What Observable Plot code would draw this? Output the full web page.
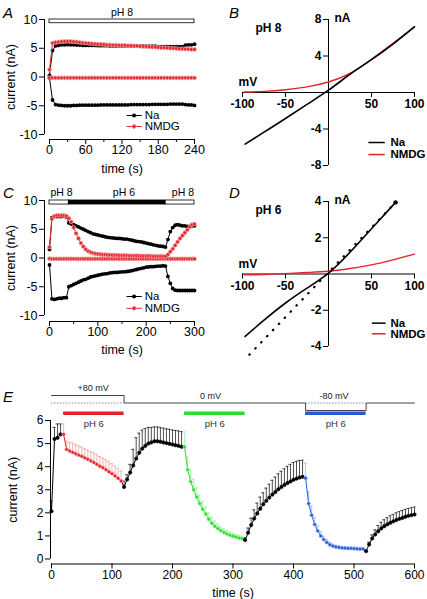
<!DOCTYPE html>
<html><head><meta charset="utf-8">
<script src="https://cdn.jsdelivr.net/npm/d3@7"></script>
<script src="https://cdn.jsdelivr.net/npm/@observablehq/plot@0.6"></script>
<style>
html,body{margin:0;padding:0;background:#fff;}
#root{position:relative;width:427px;height:599px;overflow:hidden;background:#fff;font-family:'Liberation Sans',Arial,Helvetica,sans-serif;}
.panel{position:absolute;}
.letter{position:absolute;font:italic 15px 'Liberation Sans',Arial,Helvetica,sans-serif;line-height:1;color:#000;}
svg{overflow:visible;}
</style></head><body><div id="root"></div>
<script>
// ---------- Panel A data (pH 8, time course) ----------
const aTime = [0,5,10,15,20,25,30,35,40,45,
  50,55,60,65,70,75,80,85,90,95,
  100,105,110,115,120,125,130,135,140,145,
  150,155,160,165,170,175,180,185,190,195,
  200,205,210,215,220,225,230,235,240];
const aNaOut = [0.3,4.6,5.4,5.5,5.6,5.6,5.65,5.6,5.6,5.55,
  5.55,5.5,5.5,5.5,5.5,5.5,5.45,5.45,5.45,5.45,
  5.4,5.4,5.4,5.4,5.4,5.4,5.4,5.4,5.4,5.4,
  5.4,5.4,5.35,5.35,5.35,5.35,5.3,5.3,5.3,5.3,
  5.3,5.3,5.3,5.3,5.3,5.55,5.6,5.6,5.7];
const aNaIn = [-0.2,-4.0,-4.8,-4.9,-4.95,-5.0,-5.0,-5.0,-4.95,-4.95,
  -4.9,-4.9,-4.9,-4.9,-4.9,-4.9,-4.9,-4.85,-4.85,-4.85,
  -4.85,-4.85,-4.85,-4.85,-4.85,-4.85,-4.85,-4.8,-4.8,-4.8,
  -4.8,-4.8,-4.8,-4.8,-4.75,-4.75,-4.75,-4.75,-4.75,-4.75,
  -4.7,-4.7,-4.7,-4.7,-4.7,-4.8,-4.85,-4.85,-4.95];
const aNmdgOut = [1.3,5.9,6.0,6.1,6.15,6.2,6.2,6.2,6.15,6.1,
  6.0,5.95,5.9,5.85,5.8,5.75,5.7,5.7,5.65,5.6,
  5.6,5.55,5.55,5.5,5.5,5.5,5.45,5.45,5.4,5.4,
  5.35,5.3,5.3,5.25,5.2,5.2,5.15,5.1,5.1,5.05,
  5.0,5.0,4.95,4.9,4.9,4.85,4.85,4.8,4.8];
const aNmdgIn = [-0.1,-0.15,-0.15,-0.15,-0.15,-0.15,-0.15,-0.15,-0.15,-0.15,
  -0.15,-0.15,-0.15,-0.15,-0.15,-0.15,-0.15,-0.15,-0.15,-0.15,
  -0.15,-0.15,-0.15,-0.15,-0.15,-0.15,-0.15,-0.15,-0.15,-0.15,
  -0.15,-0.15,-0.15,-0.15,-0.15,-0.15,-0.15,-0.15,-0.15,-0.15,
  -0.15,-0.15,-0.15,-0.15,-0.15,-0.15,-0.15,-0.15,-0.15];
const aPhBars = [{from:0, to:240, ph:8}];
const aXTicks = [0,60,120,180,240];
const aXMinor = [30,90,150,210];
const aYTicks = [-10,-5,0,5,10];

// ---------- Panel B data (I-V, pH 8) ----------
const bNaMv = [-97,-75,-50,-25,0,25,50,75,100];
const bNaI = [-5.65,-4.35,-2.85,-1.3,0.25,2.0,3.6,5.3,7.2];
const bNmdgMv = [-98,-75,-50,-25,0,25,50,75,100];
const bNmdgI = [0.05,0.12,0.3,0.62,1.15,2.1,3.65,5.4,7.2];
const bXTicks = [-100,-50,50,100];
const bYTicks = [8,4,-4,-8];

// ---------- Panel C data (pH 8 -> pH 6 -> pH 8) ----------
const cTime = [0,5,10,15,20,25,30,35,40,45,
  50,55,60,65,70,75,80,85,90,95,
  100,105,110,115,120,125,130,135,140,145,
  150,155,160,165,170,175,180,185,190,195,
  200,205,210,215,220,225,230,235,240,245,
  250,255,260,265,270,275,280,285,290,295,
  300];
const cNaOut = [1.5,7.0,7.2,7.2,7.2,7.2,7.3,7.1,6.1,5.9,
  5.8,5.6,5.4,5.2,5.0,4.8,4.6,4.4,4.2,4.1,
  4.0,3.9,3.8,3.7,3.6,3.55,3.5,3.45,3.4,3.4,
  3.35,3.3,3.3,3.2,3.1,3.0,2.9,2.85,2.8,2.7,
  2.6,2.5,2.4,2.3,2.2,2.1,2.05,2.0,1.9,3.2,
  4.6,5.3,5.7,5.8,5.7,5.6,5.6,5.5,5.5,5.6,
  5.6];
const cNaIn = [-1.2,-7.1,-7.2,-7.1,-7.0,-7.0,-6.9,-6.9,-5.0,-4.8,
  -4.6,-4.4,-4.2,-4.0,-3.8,-3.7,-3.5,-3.3,-3.2,-3.1,
  -3.0,-2.9,-2.8,-2.75,-2.7,-2.6,-2.55,-2.5,-2.5,-2.45,
  -2.4,-2.4,-2.35,-2.3,-2.2,-2.1,-2.0,-1.9,-1.8,-1.7,
  -1.6,-1.55,-1.5,-1.5,-1.45,-1.4,-1.4,-1.35,-1.4,-3.2,
  -4.4,-5.3,-5.6,-5.65,-5.65,-5.65,-5.65,-5.65,-5.65,-5.65,
  -5.65];
const cNmdgOut = [1.9,6.8,7.3,7.4,7.4,7.4,7.4,7.3,6.9,6.3,
  5.3,4.3,3.4,2.6,2.0,1.5,1.2,1.0,0.85,0.75,
  0.7,0.65,0.6,0.6,0.55,0.55,0.5,0.5,0.5,0.45,
  0.45,0.45,0.45,0.4,0.4,0.4,0.4,0.4,0.35,0.35,
  0.35,0.35,0.35,0.3,0.3,0.3,0.3,0.3,0.3,0.6,
  1.1,1.6,2.2,2.8,3.4,3.9,4.4,4.9,5.4,5.8,
  5.9];
const cNmdgIn = [-0.1,-0.15,-0.15,-0.15,-0.15,-0.15,-0.15,-0.15,-0.15,-0.15,
  -0.15,-0.15,-0.15,-0.15,-0.15,-0.15,-0.15,-0.15,-0.15,-0.15,
  -0.15,-0.15,-0.15,-0.15,-0.15,-0.15,-0.15,-0.15,-0.15,-0.15,
  -0.15,-0.15,-0.15,-0.15,-0.15,-0.15,-0.15,-0.15,-0.15,-0.15,
  -0.15,-0.15,-0.15,-0.15,-0.15,-0.15,-0.15,-0.15,-0.15,-0.15,
  -0.15,-0.15,-0.15,-0.15,-0.15,-0.15,-0.15,-0.15,-0.15,-0.15,
  -0.15];
const cPhBars = [{from:0,to:40,ph:8},{from:40,to:240,ph:6},{from:240,to:300,ph:8}];
const cPhLabelT = [25,154,276];
const cXTicks = [0,100,200,300];
const cXMinor = [50,150,250];
const cYTicks = [-10,-5,0,5,10];

// ---------- Panel D data (I-V, pH 6) ----------
const dNaMv = [-97,-75,-50,-25,0,25,50,78];
const dNaI = [-3.45,-2.55,-1.6,-0.78,0.05,1.2,2.5,3.95];
const dFitMv = [-92,78];
const dFitI = [-4.45,3.95];
const dNmdgMv = [-98,-75,-50,-25,0,25,50,75,100];
const dNmdgI = [-0.05,-0.03,0.02,0.08,0.15,0.3,0.5,0.78,1.1];
const dXTicks = [-100,-50,50,100];
const dYTicks = [4,2,-2,-4];

// ---------- Panel E data (mean + SEM) ----------
const eTime = [0,5,10,15,20,25,30,35,40,45,
  50,55,60,65,70,75,80,85,90,95,
  100,105,110,115,120,125,130,135,140,145,
  150,155,160,165,170,175,180,185,190,195,
  200,205,210,215,220,225,230,235,240,245,
  250,255,260,265,270,275,280,285,290,295,
  300,305,310,315,320,325,330,335,340,345,
  350,355,360,365,370,375,380,385,390,395,
  400,405,410,415,420,425,430,435,440,445,
  450,455,460,465,470,475,480,485,490,495,
  500,505,510,515,520,525,530,535,540,545,
  550,555,560,565,570,575,580,585,590,595,
  600];
const eMean = [2.07,5.2,5.25,5.4,5.4,4.75,4.68,4.62,4.56,4.5,
  4.45,4.38,4.32,4.25,4.18,4.1,4.02,3.95,3.87,3.78,
  3.7,3.6,3.5,3.38,3.12,3.45,3.75,4.05,4.35,4.6,
  4.78,4.9,5.0,5.05,5.1,5.1,5.08,5.05,5.02,4.99,
  4.96,4.93,4.9,4.86,4.85,3.87,3.35,3.0,2.68,2.4,
  2.15,1.95,1.72,1.55,1.42,1.32,1.23,1.15,1.09,1.03,
  0.99,0.95,0.91,0.88,0.82,1.14,1.47,1.75,1.97,2.18,
  2.37,2.52,2.66,2.79,2.9,3.02,3.12,3.21,3.29,3.36,
  3.43,3.48,3.53,3.56,3.5,2.4,1.9,1.5,1.22,1.0,
  0.84,0.72,0.62,0.56,0.52,0.5,0.48,0.47,0.46,0.46,
  0.45,0.44,0.43,0.43,0.34,0.63,0.89,1.06,1.2,1.32,
  1.42,1.5,1.57,1.63,1.69,1.74,1.78,1.83,1.87,1.9,
  1.93];
const eErr = [0.45,0.5,0.6,0.45,0.45,0.35,0.38,0.4,0.4,0.4,
  0.4,0.4,0.4,0.4,0.42,0.42,0.42,0.42,0.43,0.43,
  0.43,0.43,0.43,0.42,0.25,0.2,0.35,0.7,0.9,0.85,
  0.8,0.75,0.7,0.65,0.62,0.62,0.62,0.62,0.62,0.63,
  0.63,0.64,0.65,0.66,0.65,0.55,0.5,0.45,0.4,0.37,
  0.34,0.3,0.28,0.25,0.22,0.2,0.18,0.16,0.15,0.14,
  0.13,0.12,0.12,0.11,0.1,0.2,0.3,0.38,0.45,0.5,
  0.5,0.55,0.58,0.62,0.65,0.67,0.68,0.7,0.72,0.74,
  0.75,0.75,0.74,0.72,0.65,0.5,0.4,0.3,0.22,0.18,
  0.14,0.12,0.1,0.09,0.08,0.08,0.07,0.07,0.07,0.07,
  0.07,0.07,0.07,0.07,0.05,0.1,0.15,0.2,0.25,0.27,
  0.28,0.29,0.3,0.3,0.31,0.31,0.32,0.32,0.32,0.32,
  0.32];
const ePhBars = [{from:20,to:120,ph:6},{from:220,to:320,ph:6},{from:420,to:520,ph:6}];
const protoT = [0,120,420,520,600];
const protoMv = [80,0,-80,0,0];
const protoLabels = [{t:69,mv:80,text:"+80 mV"},{t:263,mv:0,text:"0 mV"},{t:467,mv:0,text:"-80 mV"}];
const eXTicks = [0,100,200,300,400,500,600];
const eYTicks = [0,1,2,3,4,5,6];

// ---------- styles ----------
const FONT = "'Liberation Sans', Arial, Helvetica, sans-serif";
const RED = "#e3232a", RED_HALO = "#f2a0a0";
const GREEN = "#2bdc2b", GREEN_HALO = "#9af09a";
const BLUE = "#2359dc", BLUE_HALO = "#9cb6f0";
const E_COLORS = [RED, GREEN, BLUE];
const E_HALOS = [RED_HALO, GREEN_HALO, BLUE_HALO];
const baseStyle = {background: "transparent", overflow: "visible", fontFamily: FONT, color: "black"};
const fmt = d => String(d);
const root = document.getElementById("root");

function place(svg, left, top) {
  const d = document.createElement("div");
  d.className = "panel";
  d.style.left = left + "px"; d.style.top = top + "px";
  d.appendChild(svg); root.appendChild(d);
}
function letter(txt, left, top) {
  const d = document.createElement("div");
  d.className = "letter"; d.textContent = txt;
  d.style.left = left + "px"; d.style.top = top + "px";
  root.appendChild(d);
}
function rows(times, vals) { return times.map((t, i) => ({t, v: vals[i]})); }

function igorAxes({xDom, yDom, xTicks, xMinor, yTicks, gapX, gapY, fx, fy}) {
  const m = [
    Plot.ruleY([yDom[0]], {x1: xDom[0], x2: xDom[1], dy: gapY, stroke: "black", strokeWidth: 1}),
    Plot.ruleX([xDom[0]], {y1: yDom[0], y2: yDom[1], dx: -gapX, stroke: "black", strokeWidth: 1}),
    Plot.axisX(xTicks, {anchor: "bottom", dy: gapY, tickSize: 5, tickPadding: 1, tickFormat: fmt, fontSize: fx, label: null}),
    Plot.axisY(yTicks, {anchor: "left", dx: -gapX, tickSize: 5, tickPadding: 2, tickFormat: fmt, fontSize: fy, label: null})
  ];
  if (xMinor) m.push(Plot.axisX(xMinor, {anchor: "bottom", dy: gapY, tickSize: 3, tickFormat: () => "", label: null}));
  return m;
}
function yTitle(txt, dx) {
  return Plot.text([txt], {frameAnchor: "left", rotate: -90, dx, textAnchor: "middle", lineAnchor: "middle", fontSize: 12.5});
}
function xTitle(txt, dy) {
  return Plot.text([txt], {frameAnchor: "bottom", dy, textAnchor: "middle", lineAnchor: "middle", fontSize: 12.5});
}
function traceMarks(times, vals, color, halo) {
  const r = rows(times, vals);
  return [
    Plot.line(r, {x: "t", y: "v", stroke: color, strokeWidth: 1}),
    Plot.dot(r, {x: "t", y: "v", r: 1.9, fill: color, stroke: halo || "none", strokeWidth: 0.8})
  ];
}
function timeLegend(items, {x1, x2, xDot, xText, ys}) {
  return items.flatMap((it, i) => [
    Plot.ruleY([ys[i]], {x1, x2, stroke: it.color, strokeWidth: 1}),
    Plot.dot([ys[i]], {x: xDot, y: d => d, r: 2, fill: it.color, stroke: it.halo || "none", strokeWidth: 0.8}),
    Plot.text([it.label], {x: xText, y: ys[i], textAnchor: "start", lineAnchor: "middle", fontSize: 11.5})
  ]);
}
function ivLegend(items, {x1, x2, xText, ys}) {
  return items.flatMap((it, i) => [
    Plot.ruleY([ys[i]], {x1, x2, stroke: it.color, strokeWidth: 1.5}),
    Plot.text([it.label], {x: xText, y: ys[i], textAnchor: "start", lineAnchor: "middle", fontSize: 11.5, fontWeight: "bold"})
  ]);
}
const legendItems = [{label: "Na", color: "black"}, {label: "NMDG", color: RED, halo: RED_HALO}];

// ---------- Panel A ----------
{
  const xDom = [0, 240], yDom = [-10, 10];
  const svg = Plot.plot({
    width: 215, height: 175, marginLeft: 49, marginRight: 21, marginTop: 19, marginBottom: 41,
    x: {domain: xDom, axis: null}, y: {domain: yDom, axis: null},
    style: baseStyle,
    marks: [
      Plot.rect(aPhBars, {x1: "from", x2: "to", y1: 9.35, y2: 10, fill: "white", stroke: "black", strokeWidth: 0.8}),
      Plot.text(aPhBars, {x: d => (d.from + d.to) / 2, y: 10, dy: -7, text: d => `pH ${d.ph}`, fontSize: 10.5}),
      ...igorAxes({xDom, yDom, xTicks: aXTicks, xMinor: aXMinor, yTicks: aYTicks, gapX: 5, gapY: 5, fx: 12.5, fy: 12.5}),
      yTitle("current (nA)", -39),
      xTitle("time (s)", 34),
      ...traceMarks(aTime, aNaOut, "black"),
      ...traceMarks(aTime, aNaIn, "black"),
      ...traceMarks(aTime, aNmdgIn, RED, RED_HALO),
      ...traceMarks(aTime, aNmdgOut, RED, RED_HALO),
      ...timeLegend(legendItems, {x1: 128.5, x2: 153.5, xDot: 140, xText: 157.5, ys: [-6.7, -8.6]})
    ]
  });
  place(svg, 0, 0);
}

// ---------- I-V panels (B, D) ----------
function ivPanel({naMv, naI, nmdgMv, nmdgI, fitMv, fitI, xTicks, yTicks, yDom, title, top, mTop, mBottom, legendYs, legendX}) {
  const W = 212, H = 175, mL = 27, mR = 13;
  const xDom = [-100, 100];
  const innerW = W - mL - mR, innerH = H - mTop - mBottom;
  const dx0 = (0 - xDom[0]) / (xDom[1] - xDom[0]) * innerW;
  const dy0 = -(0 - yDom[0]) / (yDom[1] - yDom[0]) * innerH;
  const marks = [
    Plot.ruleY([0], {x1: xDom[0], x2: xDom[1], stroke: "black", strokeWidth: 1}),
    Plot.ruleX([0], {y1: yDom[0], y2: yDom[1], stroke: "black", strokeWidth: 1}),
    Plot.axisX(xTicks, {anchor: "bottom", dy: dy0, tickSize: 5, tickPadding: 2, tickFormat: fmt, fontSize: 12, fontWeight: "bold", label: null}),
    Plot.axisY(yTicks, {anchor: "left", dx: dx0, tickSize: 5, tickPadding: 2, tickFormat: fmt, fontSize: 12, fontWeight: "bold", label: null}),
    Plot.text(["nA"], {x: 0, y: yDom[1], dx: 6, dy: -1, textAnchor: "start", lineAnchor: "middle", fontSize: 12, fontWeight: "bold"}),
    Plot.text(["mV"], {x: xDom[0], y: 0, dx: -4, dy: -10, textAnchor: "start", lineAnchor: "middle", fontSize: 12, fontWeight: "bold"}),
    Plot.text([title], {frameAnchor: "top-left", dx: 13, dy: 9, textAnchor: "start", lineAnchor: "middle", fontSize: 12, fontWeight: "bold"}),
    Plot.line(rows(nmdgMv, nmdgI), {x: "t", y: "v", curve: "natural", stroke: RED, strokeWidth: 1.4}),
    Plot.line(rows(naMv, naI), {x: "t", y: "v", curve: "natural", stroke: "black", strokeWidth: 1.6})
  ];
  if (fitMv) {
    const f = rows(fitMv, fitI);
    marks.push(Plot.line(f, {x: "t", y: "v", stroke: "black", strokeWidth: 2.2, strokeDasharray: "0.5,8", strokeLinecap: "round"}));
    marks.push(Plot.dot([f[f.length - 1]], {x: "t", y: "v", r: 2.2, fill: "black"}));
  }
  marks.push(...ivLegend([{label: "Na", color: "black"}, {label: "NMDG", color: RED}], {x1: legendX[0], x2: legendX[1], xText: legendX[2], ys: legendYs}));
  const svg = Plot.plot({
    width: W, height: H, marginLeft: mL, marginRight: mR, marginTop: mTop, marginBottom: mBottom,
    x: {domain: xDom, axis: null}, y: {domain: yDom, axis: null},
    style: baseStyle, marks
  });
  place(svg, 215, top);
}
ivPanel({naMv: bNaMv, naI: bNaI, nmdgMv: bNmdgMv, nmdgI: bNmdgI, xTicks: bXTicks, yTicks: bYTicks,
  yDom: [-8, 8], title: "pH 8", top: 0, mTop: 19, mBottom: 10, legendYs: [-5.48, -6.8], legendX: [47, 66, 72]});

// ---------- Panel C ----------
{
  const xDom = [0, 300], yDom = [-10, 10];
  const svg = Plot.plot({
    width: 215, height: 175, marginLeft: 49, marginRight: 21, marginTop: 19, marginBottom: 41,
    x: {domain: xDom, axis: null}, y: {domain: yDom, axis: null},
    style: baseStyle,
    marks: [
      Plot.rect(cPhBars.filter(d => d.ph === 8), {x1: "from", x2: "to", y1: 9.3, y2: 10, fill: "white", stroke: "black", strokeWidth: 0.8}),
      Plot.rect(cPhBars.filter(d => d.ph === 6), {x1: "from", x2: "to", y1: 9.3, y2: 10, fill: "black", stroke: "black", strokeWidth: 0.8}),
      Plot.text(cPhBars, {x: (d, i) => cPhLabelT[i], y: 10, dy: -8, text: d => `pH ${d.ph}`, fontSize: 10.5}),
      ...igorAxes({xDom, yDom, xTicks: cXTicks, xMinor: cXMinor, yTicks: cYTicks, gapX: 5, gapY: 6, fx: 12.5, fy: 12.5}),
      yTitle("current (nA)", -39),
      xTitle("time (s)", 34),
      ...traceMarks(cTime, cNaOut, "black"),
      ...traceMarks(cTime, cNaIn, "black"),
      ...traceMarks(cTime, cNmdgIn, RED, RED_HALO),
      ...traceMarks(cTime, cNmdgOut, RED, RED_HALO),
      ...timeLegend(legendItems, {x1: 160.5, x2: 192, xDot: 175, xText: 197, ys: [-6.7, -8.75]})
    ]
  });
  place(svg, 0, 181);
}

// ---------- Panel D ----------
ivPanel({naMv: dNaMv, naI: dNaI, nmdgMv: dNmdgMv, nmdgI: dNmdgI, fitMv: dFitMv, fitI: dFitI, xTicks: dXTicks, yTicks: dYTicks,
  yDom: [-4, 4], title: "pH 6", top: 181, mTop: 20, mBottom: 10, legendYs: [-2.71, -3.3], legendX: [51, 67, 72]});

// ---------- Panel E: protocol ----------
{
  const xDom = [0, 600];
  const holds = protoMv.map((v, i) => ({from: protoT[i], to: protoT[i + 1], v})).filter(d => d.v !== 0 && d.to !== undefined);
  const svg = Plot.plot({
    width: 427, height: 50, marginLeft: 51, marginRight: 13, marginTop: 15, marginBottom: 20,
    x: {domain: xDom, axis: null}, y: {domain: [-80, 80], axis: null},
    color: {type: "identity"},
    style: baseStyle,
    marks: [
      Plot.ruleY(holds, {y: 0, x1: "from", x2: "to", stroke: "#888", strokeWidth: 1, strokeDasharray: "1.5,1.5"}),
      Plot.line(rows(protoT, protoMv), {x: "t", y: "v", curve: "step-after", stroke: "#444", strokeWidth: 1}),
      Plot.text(protoLabels, {x: "t", y: "mv", dy: -7, text: "text", fontSize: 9, fill: "#222"}),
      Plot.ruleY(ePhBars, {y: -80, dy: 2.8, x1: "from", x2: "to", stroke: (d, i) => E_COLORS[i], strokeWidth: 3.6}),
      Plot.text(ePhBars, {x: d => (d.from + d.to) / 2, y: -80, dy: 13, text: d => `pH ${d.ph}`, fontSize: 9.5, fill: "#333"})
    ]
  });
  place(svg, 0, 380);
}

// ---------- Panel E: main ----------
{
  const xDom = [0, 600], yDom = [0, 6];
  const segIndex = t => ePhBars.findIndex(b => t >= b.from && t < b.to);
  const pts = eTime.map((t, i) => {
    const k = segIndex(t);
    return {t, m: eMean[i], e: eErr[i], c: k < 0 ? "black" : E_COLORS[k], h: k < 0 ? "black" : E_HALOS[k], eb: k < 0 ? "#222" : E_HALOS[k]};
  });
  const links = pts.slice(1).map((d, i) => ({t1: pts[i].t, m1: pts[i].m, t2: d.t, m2: d.m, c: d.c}));
  const svg = Plot.plot({
    width: 427, height: 189, marginLeft: 51, marginRight: 13, marginTop: 10, marginBottom: 40.5,
    x: {domain: xDom, axis: null}, y: {domain: yDom, axis: null},
    color: {type: "identity"},
    style: baseStyle,
    marks: [
      Plot.ruleX(pts, {x: "t", y1: "m", y2: d => d.m + d.e, stroke: "eb", strokeWidth: 0.8}),
      Plot.ruleY(pts, {y: d => d.m + d.e, x1: d => d.t - 2.5, x2: d => d.t + 2.5, stroke: "eb", strokeWidth: 0.8}),
      Plot.link(links, {x1: "t1", y1: "m1", x2: "t2", y2: "m2", stroke: "c", strokeWidth: 1}),
      Plot.dot(pts, {x: "t", y: "m", r: 1.7, fill: "c", stroke: "h", strokeWidth: 0.6}),
      ...igorAxes({xDom, yDom, xTicks: eXTicks, yTicks: eYTicks, gapX: 1, gapY: 5, fx: 12, fy: 12}),
      yTitle("current (nA)", -38.5),
      xTitle("time (s)", 33.5)
    ]
  });
  place(svg, 0, 410);
}

letter("A", 3, 4.5);
letter("B", 229, 4.5);
letter("C", 3, 185);
letter("D", 229, 185);
letter("E", 3, 389);
</script></body></html>
